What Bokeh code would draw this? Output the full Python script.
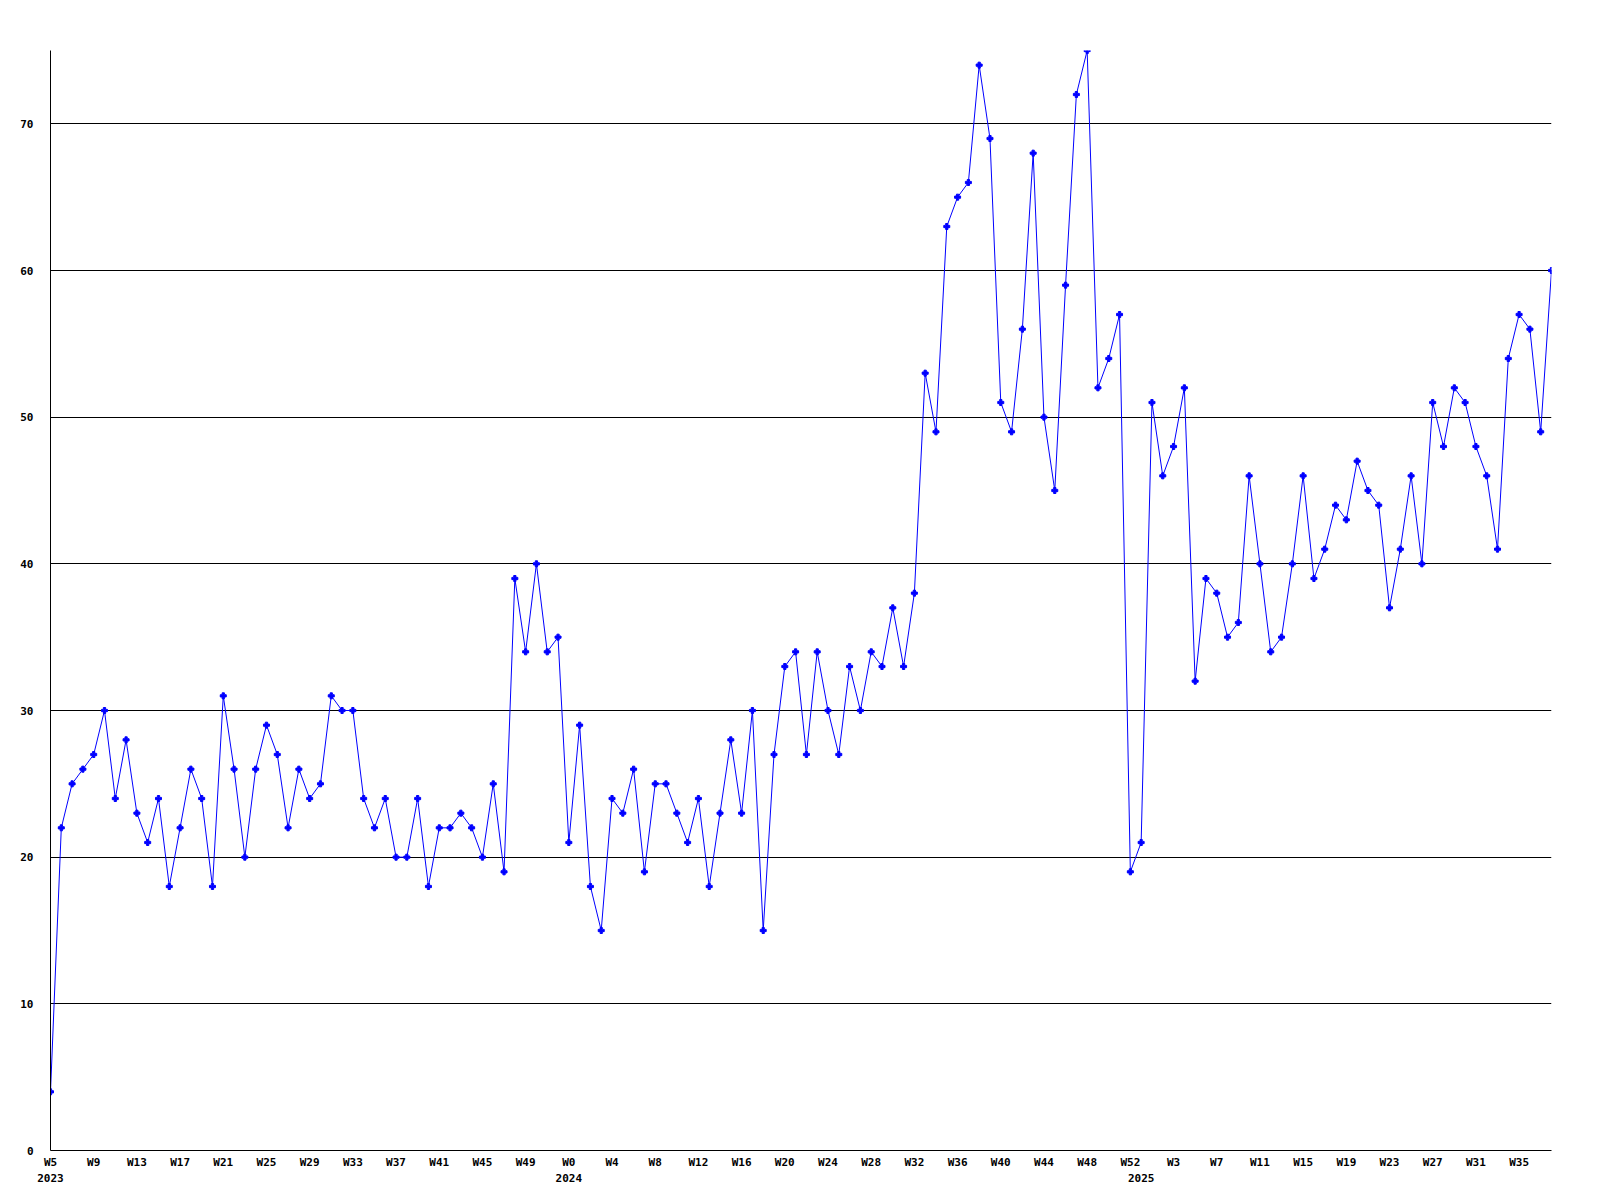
from bokeh.plotting import figure
from bokeh.models import FixedTicker, LinearAxis, Range1d
from bokeh.embed import file_html
from bokeh.resources import INLINE

# ---- data ----
weeks_2023 = list(range(5, 53))
vals_2023 = [4, 22, 25, 26, 27, 30, 24, 28, 23, 21,
             24, 18, 22, 26, 24, 18, 31, 26, 20, 26,
             29, 27, 22, 26, 24, 25, 31, 30, 30, 24,
             22, 24, 20, 20, 24, 18, 22, 22, 23, 22,
             20, 25, 19, 39, 34, 40, 34, 35]
weeks_2024 = list(range(0, 53))
vals_2024 = [21, 29, 18, 15, 24, 23, 26, 19, 25, 25,
             23, 21, 24, 18, 23, 28, 23, 30, 15, 27,
             33, 34, 27, 34, 30, 27, 33, 30, 34, 33,
             37, 33, 38, 53, 49, 63, 65, 66, 74, 69,
             51, 49, 56, 68, 50, 45, 59, 72, 75, 52,
             54, 57, 19]
weeks_2025 = list(range(0, 39))
vals_2025 = [21, 51, 46, 48, 52, 32, 39, 38, 35, 36,
             46, 40, 34, 35, 40, 46, 39, 41, 44, 43,
             47, 45, 44, 37, 41, 46, 40, 51, 48, 52,
             51, 48, 46, 41, 54, 57, 56, 49, 60]
years = ["2023", "2024", "2025"]
y_ticks = [0, 10, 20, 30, 40, 50, 60, 70]

week_labels = (["W%d" % w for w in weeks_2023] + ["W%d" % w for w in weeks_2024]
               + ["W%d" % w for w in weeks_2025])
values = vals_2023 + vals_2024 + vals_2025
xs = list(range(len(values)))
year_starts = [0, len(vals_2023), len(vals_2023) + len(vals_2024)]

FONT = "DejaVu Sans Mono"
BLUE = "#0000ff"

p = figure(width=1592, height=1192, output_backend="svg", toolbar_location=None,
           x_range=Range1d(0, len(values) - 1), y_range=Range1d(0, 75),
           min_border_left=50, min_border_right=41, min_border_top=50, min_border_bottom=42,
           background_fill_color="white", border_fill_color="white")
p.outline_line_color = None

p.line(xs, values, line_color=BLUE, line_width=1)
p.scatter(xs, values, marker="plus", size=6, color=BLUE)

# x axis (weeks)
wk_ticks = xs[::4]
xa = p.xaxis[0]
xa.ticker = FixedTicker(ticks=wk_ticks)
xa.major_label_overrides = {t: week_labels[t] for t in wk_ticks}
xa.minor_tick_line_color = None
xa.major_tick_line_color = None
xa.major_tick_in = 0
xa.major_tick_out = 0
xa.major_label_standoff = 5
xa.axis_line_color = "black"
xa.major_label_text_font = FONT
xa.major_label_text_font_style = "bold"
xa.major_label_text_font_size = "11px"
xa.major_label_text_color = "black"

# second axis for years
ya_years = LinearAxis(ticker=FixedTicker(ticks=year_starts),
                      major_label_overrides={s: y for s, y in zip(year_starts, years)})
ya_years.axis_line_color = None
ya_years.major_tick_line_color = None
ya_years.minor_tick_line_color = None
ya_years.major_tick_in = 0
ya_years.major_tick_out = 0
ya_years.major_label_standoff = 2
ya_years.major_label_text_font = FONT
ya_years.major_label_text_font_style = "bold"
ya_years.major_label_text_font_size = "11px"
ya_years.major_label_text_color = "black"
p.add_layout(ya_years, "below")

# y axis
ya = p.yaxis[0]
ya.ticker = FixedTicker(ticks=y_ticks)
ya.minor_tick_line_color = None
ya.major_tick_line_color = None
ya.major_tick_in = 0
ya.major_tick_out = 0
ya.major_label_standoff = 17
ya.axis_line_color = "black"
ya.major_label_text_font = FONT
ya.major_label_text_font_style = "bold"
ya.major_label_text_font_size = "11px"
ya.major_label_text_color = "black"

p.xgrid.grid_line_color = None
p.ygrid.ticker = FixedTicker(ticks=y_ticks)
p.ygrid.grid_line_color = "black"
p.ygrid.grid_line_width = 1

open("out.html", "w").write(file_html(p, INLINE))
